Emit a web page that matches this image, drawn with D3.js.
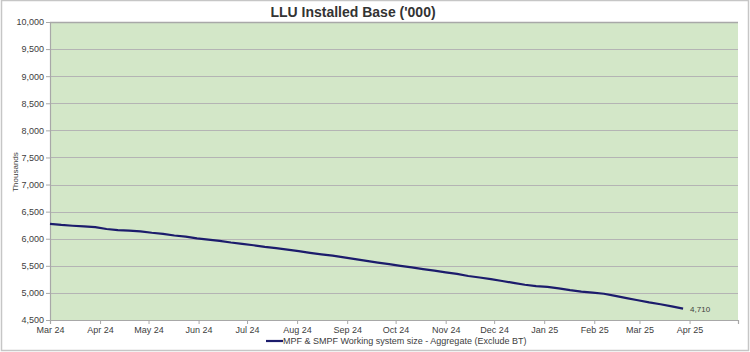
<!DOCTYPE html>
<html lang="en">
<head>
<meta charset="UTF-8">
<title>LLU Installed Base</title>
<script src="https://cdn.jsdelivr.net/npm/d3@7"></script>
<style>
  body { margin: 0; background: #fff; }
  text { font-family: "Liberation Sans", Arial, sans-serif; }
</style>
</head>
<body>
<script>
// weekly dates (Fridays)
var dates = [
  "2024-03-01","2024-03-08","2024-03-15","2024-03-22","2024-03-29","2024-04-05","2024-04-12","2024-04-19",
  "2024-04-26","2024-05-03","2024-05-10","2024-05-17","2024-05-24","2024-05-31","2024-06-07","2024-06-14",
  "2024-06-21","2024-06-28","2024-07-05","2024-07-12","2024-07-19","2024-07-26","2024-08-02","2024-08-09",
  "2024-08-16","2024-08-23","2024-08-30","2024-09-06","2024-09-13","2024-09-20","2024-09-27","2024-10-04",
  "2024-10-11","2024-10-18","2024-10-25","2024-11-01","2024-11-08","2024-11-15","2024-11-22","2024-11-29",
  "2024-12-06","2024-12-13","2024-12-20","2024-12-27","2025-01-03","2025-01-10","2025-01-17","2025-01-24",
  "2025-01-31","2025-02-07","2025-02-14","2025-02-21","2025-02-28","2025-03-07","2025-03-14","2025-03-21",
  "2025-03-28"
];
// MPF & SMPF working system size ('000)
var values = [
  6275, 6255, 6240, 6228, 6215, 6180, 6160, 6150,
  6135, 6110, 6090, 6060, 6040, 6005, 5985, 5960,
  5930, 5905, 5880, 5850, 5825, 5800, 5770, 5740,
  5712, 5688, 5655, 5622, 5590, 5560, 5530, 5500,
  5470, 5440, 5410, 5380, 5350, 5312, 5285, 5255,
  5220, 5185, 5150, 5125, 5110, 5085, 5050, 5025,
  5005, 4985, 4945, 4905, 4865, 4825, 4790, 4750,
  4710
];
var seriesName = "MPF & SMPF Working system size - Aggregate (Exclude BT)";
var yTicks = [4500, 5000, 5500, 6000, 6500, 7000, 7500, 8000, 8500, 9000, 9500, 10000];
var monthTicks = ["2024-03-01","2024-04-01","2024-05-01","2024-06-01","2024-07-01","2024-08-01","2024-09-01",
  "2024-10-01","2024-11-01","2024-12-01","2025-01-01","2025-02-01","2025-03-01","2025-04-01","2025-05-01"];
var monthLabels = ["Mar 24","Apr 24","May 24","Jun 24","Jul 24","Aug 24","Sep 24","Oct 24",
  "Nov 24","Dec 24","Jan 25","Feb 25","Mar 25","Apr 25",""];

var width = 750, height = 352;
var margin = {top: 22, right: 12, bottom: 32, left: 50};
var parse = d3.utcParse("%Y-%m-%d");

var data = dates.map(function(d, i){ return {date: parse(d), value: values[i]}; });
var tickDates = monthTicks.map(parse);

var svg = d3.select("body").append("svg")
    .attr("width", width).attr("height", height);

// outer border
svg.append("rect")
    .attr("x", 1.5).attr("y", 0.5)
    .attr("width", width - 3).attr("height", height - 2)
    .attr("fill", "#fff").attr("stroke", "#c6c6c6").attr("stroke-width", 1.5);

var x = d3.scaleUtc()
    .domain([tickDates[0], tickDates[tickDates.length - 1]])
    .range([margin.left, width - margin.right]);
var y = d3.scaleLinear()
    .domain([4500, 10000])
    .range([height - margin.bottom, margin.top]);

// plot background
svg.append("rect")
    .attr("x", margin.left).attr("y", margin.top)
    .attr("width", width - margin.right - margin.left)
    .attr("height", height - margin.bottom - margin.top)
    .attr("fill", "#d3e7c8");

// gridlines
svg.append("g").selectAll("line")
    .data(yTicks.slice(1))
    .enter().append("line")
    .attr("x1", margin.left).attr("x2", width - margin.right)
    .attr("y1", function(d){ return Math.round(y(d)) + 0.5; })
    .attr("y2", function(d){ return Math.round(y(d)) + 0.5; })
    .attr("stroke", function(d){ return d === 10000 ? "#a8a8a8" : "#b4b4b4"; })
    .attr("stroke-width", function(d){ return d === 10000 ? 1.5 : 1.2; });

// y axis
var yAxis = svg.append("g")
    .attr("transform", "translate(" + margin.left + ",0)")
    .call(d3.axisLeft(y).tickValues(yTicks).tickSize(4).tickPadding(2)
        .tickFormat(d3.format(",")));
yAxis.select(".domain").attr("stroke", "#a8a8a8").attr("stroke-width", 1.2);
yAxis.selectAll(".tick line").attr("stroke", "#a8a8a8");
yAxis.selectAll("text").attr("font-size", "9px").attr("fill", "#404040")
    .style("font-family", "'Liberation Sans', Arial, sans-serif");

// x axis
var xAxis = svg.append("g")
    .attr("transform", "translate(0," + (height - margin.bottom) + ")")
    .call(d3.axisBottom(x).tickValues(tickDates).tickSize(4).tickPadding(3)
        .tickFormat(function(d, i){ return monthLabels[i]; }));
xAxis.select(".domain").attr("stroke", "#a8a8a8").attr("stroke-width", 1.2);
xAxis.selectAll(".tick line").attr("stroke", "#a8a8a8");
xAxis.selectAll("text").attr("font-size", "9px").attr("fill", "#404040")
    .style("font-family", "'Liberation Sans', Arial, sans-serif");

// line
var line = d3.line()
    .x(function(d){ return x(d.date); })
    .y(function(d){ return y(d.value); });
svg.append("path")
    .datum(data)
    .attr("d", line)
    .attr("fill", "none")
    .attr("stroke", "#1c1c6c")
    .attr("stroke-width", 2.2)
    .attr("stroke-linejoin", "round");

// last value label
var last = data[data.length - 1];
svg.append("text")
    .attr("x", x(last.date) + 7).attr("y", y(last.value) + 3)
    .attr("font-size", "8px").attr("fill", "#404040")
    .text(d3.format(",")(last.value));

// title
svg.append("text")
    .attr("x", 353).attr("y", 17)
    .attr("text-anchor", "middle")
    .attr("font-size", "14px").attr("font-weight", "bold").attr("fill", "#333")
    .text("LLU Installed Base ('000)");

// y axis title
svg.append("text")
    .attr("transform", "translate(18,172) rotate(-90)")
    .attr("text-anchor", "middle")
    .attr("font-size", "8px").attr("fill", "#404040")
    .text("Thousands");

// legend
var legend = svg.append("g").attr("transform", "translate(266,341)");
legend.append("line")
    .attr("x1", 0).attr("x2", 17).attr("y1", 0).attr("y2", 0)
    .attr("stroke", "#1c1c6c").attr("stroke-width", 2.2);
legend.append("text")
    .attr("x", 17).attr("y", 3)
    .attr("font-size", "9px").attr("fill", "#404040")
    .text(seriesName);
</script>
</body>
</html>
